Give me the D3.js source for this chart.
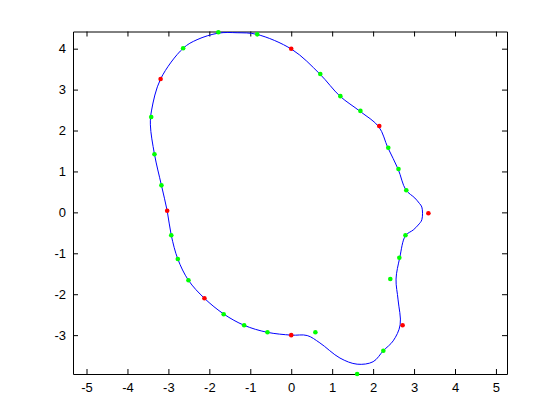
<!DOCTYPE html>
<html>
<head>
<meta charset="utf-8">
<script src="https://cdn.jsdelivr.net/npm/d3@7"></script>
<style>
  body { margin: 0; background: #fff; }
  svg { display: block; }
  .tick text { font-family: "Liberation Sans", Arial, sans-serif; font-size: 13px; fill: #000; }
</style>
</head>
<body>
<script>
// Figure + axes box (MATLAB default position)
const W = 560, H = 420;
const BOX = { left: 73, right: 507, top: 31.5, bottom: 374 };

// Tick values
const xTicks = [-5, -4, -3, -2, -1, 0, 1, 2, 3, 4, 5];
const yTicks = [-3, -2, -1, 0, 1, 2, 3, 4];

// Closed curve
const curveX = [-1.78, -1.32, -0.84, 0.02, 0.70, 1.19, 1.68, 2.14, 2.36, 2.61, 2.80, 3.02, 3.13, 3.19, 3.19, 3.10, 2.98,
  2.79, 2.65, 2.56, 2.61, 2.66, 2.49, 2.25, 2.00, 1.61, 1.19, 0.70, 0.39, 0.00, -0.59, -1.15, -1.64,
  -2.12, -2.51, -2.77, -2.93, -3.03, -3.17, -3.34, -3.44, -3.41, -3.19, -2.64, -2.30];
const curveY = [4.38, 4.39, 4.35, 3.98, 3.38, 2.84, 2.47, 2.09, 1.58, 1.06, 0.55, 0.35, 0.22, 0.13, -0.18, -0.31, -0.43,
  -0.57, -1.11, -1.63, -2.14, -2.75, -3.14, -3.38, -3.65, -3.71, -3.56, -3.19, -3.01, -3.00, -2.93, -2.76, -2.49,
  -2.10, -1.66, -1.14, -0.56, 0.04, 0.66, 1.42, 2.14, 2.50, 3.26, 4.01, 4.22];

// Red control points
const redX = [-3.19, 0.0, 2.15, 3.35, 2.72, 0.0, -2.12, -3.03];
const redY = [3.26, 4.0, 2.11, -0.02, -2.76, -3.0, -2.10, 0.04];

// Green sample points
const greenX = [-1.78, -0.83, -2.64, -3.42, 0.71, 1.20, 1.69, 2.37, 2.62, 2.81, 2.79, 2.64,
  2.42, 2.25, 1.61, 0.59, -0.58, -1.15, -1.65, -2.51, -2.77, -2.93, -3.17, -3.34];
const greenY = [4.40, 4.35, 4.01, 2.33, 3.38, 2.84, 2.48, 1.58, 1.06, 0.54, -0.56, -1.11,
  -1.63, -3.38, -3.95, -2.93, -2.93, -2.76, -2.49, -1.66, -1.14, -0.56, 0.66, 1.42];

const svg = d3.select("body").append("svg")
  .attr("width", W)
  .attr("height", H);

svg.append("rect").attr("width", W).attr("height", H).attr("fill", "#fff");

const x = d3.scaleLinear().domain([-5.33, 5.27]).range([BOX.left, BOX.right]);
const y = d3.scaleLinear().domain([-3.95, 4.42]).range([BOX.bottom, BOX.top]);

// Axes (ticks inside, mirrored on top/right); plain hyphen minus like MATLAB
const TICK = -5;
const fmt = d => String(d);
function styleAxis(g) {
  g.attr("font-family", null).attr("font-size", null);
  g.selectAll("path.domain").attr("stroke", "#000");
  g.selectAll(".tick line").attr("stroke", "#000");
}

svg.append("g")
  .attr("transform", `translate(0,${BOX.bottom})`)
  .call(d3.axisBottom(x).tickValues(xTicks).tickFormat(fmt).tickSizeInner(TICK).tickSizeOuter(0).tickPadding(8.5))
  .call(styleAxis);

svg.append("g")
  .attr("transform", `translate(0,${BOX.top})`)
  .call(d3.axisTop(x).tickValues(xTicks).tickSizeInner(TICK).tickSizeOuter(0).tickFormat(""))
  .call(styleAxis);

svg.append("g")
  .attr("transform", `translate(${BOX.left},0)`)
  .call(d3.axisLeft(y).tickValues(yTicks).tickFormat(fmt).tickSizeInner(TICK).tickSizeOuter(0).tickPadding(7))
  .call(styleAxis);

svg.append("g")
  .attr("transform", `translate(${BOX.right},0)`)
  .call(d3.axisRight(y).tickValues(yTicks).tickSizeInner(TICK).tickSizeOuter(0).tickFormat(""))
  .call(styleAxis);

// Curve
const curvePts = curveX.map((v, i) => [v, curveY[i]]);
const line = d3.line()
  .x(d => x(d[0]))
  .y(d => y(d[1]))
  .curve(d3.curveCatmullRomClosed.alpha(0.5));

svg.append("path")
  .datum(curvePts)
  .attr("fill", "none")
  .attr("stroke", "#0000ff")
  .attr("stroke-width", 1)
  .attr("d", line);

// Markers
function dots(xs, ys, color) {
  svg.append("g").selectAll("circle")
    .data(xs.map((v, i) => [v, ys[i]]))
    .enter()
    .append("circle")
    .attr("cx", d => x(d[0]))
    .attr("cy", d => y(d[1]))
    .attr("r", 2.3)
    .attr("fill", color);
}
dots(greenX, greenY, "#00ff00");
dots(redX, redY, "#ff0000");
</script>
</body>
</html>
